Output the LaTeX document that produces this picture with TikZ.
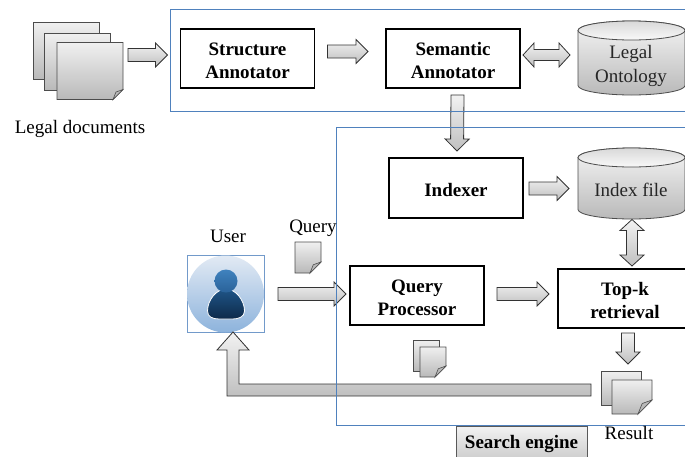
\documentclass[tikz,border=0pt]{standalone}
\usepackage{fontspec}
\setmainfont{Liberation Serif}
\usetikzlibrary{calc, positioning}
\definecolor{regionblue}{HTML}{4F81BD}
\definecolor{iconpale}{HTML}{E2EAF4}
\definecolor{iconmid}{HTML}{8DB3DC}
\definecolor{headtop}{HTML}{3F82BE}
\definecolor{headbot}{HTML}{2A6299}
\definecolor{bodytop}{HTML}{1F5587}
\definecolor{bodybot}{HTML}{0E2A4A}
\newcommand{\lift}{\rule{0pt}{17pt}}
\newcommand{\foldpage}[4][10]{% name, position, size
  \node[pagenode, #4] (#2) at #3 {};
  \draw[pagebody] (#2.north west) -- (#2.north east) -- ($(#2.south east)+(0,-#1)$)
    -- ($(#2.south east)+(-#1,0)$) -- (#2.south west) -- cycle;
  \draw[pagefold] ($(#2.south east)+(0,-#1)$) -- ($(#2.south east)+(-0.7*#1,-0.75*#1)$)
    -- ($(#2.south east)+(-#1,0)$) -- cycle;
}
\newcommand{\storedrum}[1]{% drawn round a named box
  \draw[drumbody] ($(#1.north west)+(0,9.5)$) -- ($(#1.south west)+(0,-9.5)$)
    arc[start angle=180, end angle=360, x radius=53.5pt, y radius=9.5pt]
    -- ($(#1.north east)+(0,9.5)$)
    arc[start angle=0, end angle=180, x radius=53.5pt, y radius=9.5pt] -- cycle;
  \draw[drumrim] ($(#1.north)+(0,9.5)$) ellipse (53.5pt and 9.5pt);
}
\begin{document}
\begin{tikzpicture}[x=1pt, y=-1pt, node distance=71pt, every node/.style={font=\fontsize{19}{23.5}\selectfont}]
  \tikzset{
    block/.style={draw, line width=1.7pt, minimum width=134pt, minimum height=59pt, inner sep=0pt, outer sep=0pt, align=center, font=\fontsize{19}{23.5}\selectfont\bfseries},
    region/.style={draw=regionblue, line width=0.8pt, anchor=north west, inner sep=0pt},
    storebox/.style={minimum width=107pt, inner sep=0pt, outer sep=0pt},
    storetext/.style={align=center, text=black!85},
    drumbody/.style={draw=black!70, line width=0.8pt, top color=gray!8, bottom color=gray!55},
    drumrim/.style={draw=black!70, line width=0.8pt, top color=gray!30, bottom color=gray!5},
    pagenode/.style={inner sep=0pt, outer sep=0pt},
    pageback/.style={draw=black!70, line width=0.8pt, inner sep=0pt, outer sep=0pt, top color=gray!12, bottom color=gray!55},
    pagebody/.style={draw=black!70, line width=0.8pt, top color=gray!12, bottom color=gray!55},
    pagefold/.style={draw=black!70, line width=0.6pt, fill=gray!55},
    fatbase/.style={draw=black!80, line width=0.8pt, top color=gray!10, bottom color=gray!50},
    fatarrow/.style={fatbase, to path={
      ($(\tikztostart)!6.5pt!90:(\tikztotarget)$)
      -- ($($(\tikztotarget)!12pt!(\tikztostart)$)!6.5pt!90:(\tikztotarget)$)
      -- ($($(\tikztotarget)!12pt!(\tikztostart)$)!12pt!90:(\tikztotarget)$)
      -- (\tikztotarget)
      -- ($($(\tikztotarget)!12pt!(\tikztostart)$)!12pt!-90:(\tikztotarget)$)
      -- ($($(\tikztotarget)!12pt!(\tikztostart)$)!6.5pt!-90:(\tikztotarget)$)
      -- ($(\tikztostart)!6.5pt!-90:(\tikztotarget)$) -- cycle}},
    fatboth/.style={fatbase, to path={
      (\tikztostart)
      -- ($($(\tikztostart)!11pt!(\tikztotarget)$)!12pt!-90:(\tikztotarget)$)
      -- ($($(\tikztostart)!11pt!(\tikztotarget)$)!5.5pt!-90:(\tikztotarget)$)
      -- ($($(\tikztotarget)!11pt!(\tikztostart)$)!5.5pt!90:(\tikztostart)$)
      -- ($($(\tikztotarget)!11pt!(\tikztostart)$)!12pt!90:(\tikztostart)$)
      -- (\tikztotarget)
      -- ($($(\tikztotarget)!11pt!(\tikztostart)$)!12pt!-90:(\tikztostart)$)
      -- ($($(\tikztotarget)!11pt!(\tikztostart)$)!5.5pt!-90:(\tikztostart)$)
      -- ($($(\tikztostart)!11pt!(\tikztotarget)$)!5.5pt!90:(\tikztotarget)$)
      -- ($($(\tikztostart)!11pt!(\tikztotarget)$)!12pt!90:(\tikztotarget)$)
      -- cycle}}
  }
  \useasboundingbox (0,0) rectangle (685,456);
  \clip (0,0) rectangle (685,456);

  % boxes
  \node[block] (structure) at (247.5,58.5) {\lift Structure\\Annotator};
  \node[block, right=71.5pt of structure] (semantic) {\lift Semantic\\Annotator};
  \node[block, minimum height=60pt] (indexer) at (456,188) {\lift Indexer};
  \node[block] (processor) at (417,295.5) {\lift Query\\Processor};
  \node[block, right=74pt of processor, yshift=-3pt] (topk) {\lift Top-k\\retrieval};

  % stores
  \node[storebox, minimum height=74pt] (ontology) at (631.5,58) {};
  \storedrum{ontology}
  \node[storetext] (ontologytext) at (631,66) {Legal\\Ontology};
  \node[storebox, minimum height=71pt] (indexfile) at (631.5,183.5) {};
  \storedrum{indexfile}
  \node[storetext] (indextext) at (631,189.5) {Index file};

  % pages
  \node[pageback, minimum width=66pt, minimum height=57pt] (doca) at (66,50.5) {};
  \node[pageback, minimum width=66pt, minimum height=57pt] (docb) at (77,61.5) {};
  \foldpage{docc}{(90,71)}{minimum width=66pt, minimum height=57pt}
  \foldpage[11]{querydoc}{(308,257.5)}{minimum width=26pt, minimum height=31pt}
  \node[pageback, minimum width=26pt, minimum height=31pt] (hita) at (426,355.5) {};
  \foldpage[11]{hitb}{(433,362)}{minimum width=26pt, minimum height=30pt}
  \node[pageback, minimum width=40pt, minimum height=34pt] (resulta) at (621,388) {};
  \foldpage[14]{resultb}{(632,397)}{minimum width=40pt, minimum height=34pt}

  % user
  \node[draw=regionblue!80, line width=0.7pt, minimum size=77pt, inner sep=0pt, outer sep=0pt] (user) at (225.5,294) {};
  \begin{scope}[shift={(user.center)}]
    \shade[top color=iconpale, bottom color=iconmid] (0,0) circle (38.5pt);
    \draw[white, line width=0.8pt, top color=bodytop, bottom color=bodybot]
      (0.5,-5) .. controls (10,-5) and (19,6) .. (19,17) .. controls (19,23) and (13,25) .. (7,25)
      -- (-6,25) .. controls (-13,25) and (-18,23) .. (-18,17) .. controls (-18,6) and (-9,-5) .. (0.5,-5) -- cycle;
    \shade[top color=headtop, bottom color=headbot] (0.5,-13) circle (11.5pt);
  \end{scope}

  % fat arrows
  \draw[fatarrow] ($(docc.east)+(5,-16)$) to ($(structure.west)+(-13,-3.5)$);
  \draw[fatarrow] ($(structure.east)+(13,-7)$) to ($(semantic.west)+(-18,-7)$);
  \draw[fatboth] ($(semantic.east)+(3,-3.5)$) to ($(ontology.west)+(-8,-3)$);
  \draw[fatarrow] ($(semantic.south)+(4.5,7)$) to ($(indexer.north)+(1,-7)$);
  \draw[fatarrow] ($(indexer.east)+(6,0.5)$) to ($(indexfile.west)+(-9,5)$);
  \draw[fatboth] ($(indexfile.south)+(0.5,0.5)$) to ($(topk.north)+(7,-3)$);
  \draw[fatarrow] ($(processor.east)+(13,-1.5)$) to ($(topk.west)+(-9,-4.5)$);
  \draw[fatarrow] ($(topk.south)+(3,5)$) to ($(resulta.north)+(7,-7)$);
  \draw[fatarrow] ($(user.east)+(14,0)$) to ($(processor.west)+(-4,-1.5)$);
  \coordinate (returnend) at ($(resulta.west)+(-10,-4)$);
  \draw[fatbase] (returnend) -- ++(-352,0) -- ++(0,-34) -- ++(10,0) -- ++(-16,-18) -- ++(-16,18) -- ++(10,0)
    -- ++(0,46) -- ++(364,0) -- cycle;

  % regions
  \node[region, minimum width=600pt, minimum height=102pt] (annotation) at (170,9) {};
  \node[region, minimum width=450pt, minimum height=298pt] (engine) at (336,127) {};

  % labels
  \node (docslabel) at (80,129) {Legal documents};
  \node (userlabel) at (228,236) {User};
  \node (querylabel) at (313,228) {Query};
  \node (resultlabel) at (629,433) {Result};
  \node[draw=black!65, line width=0.8pt, top color=gray!10, bottom color=gray!40, minimum width=131pt, minimum height=34pt, inner sep=0pt, font=\fontsize{19}{22}\selectfont\bfseries] (enginelabel) at (521.5,443) {\rule{0pt}{15pt}Search engine};
\end{tikzpicture}
\end{document}
